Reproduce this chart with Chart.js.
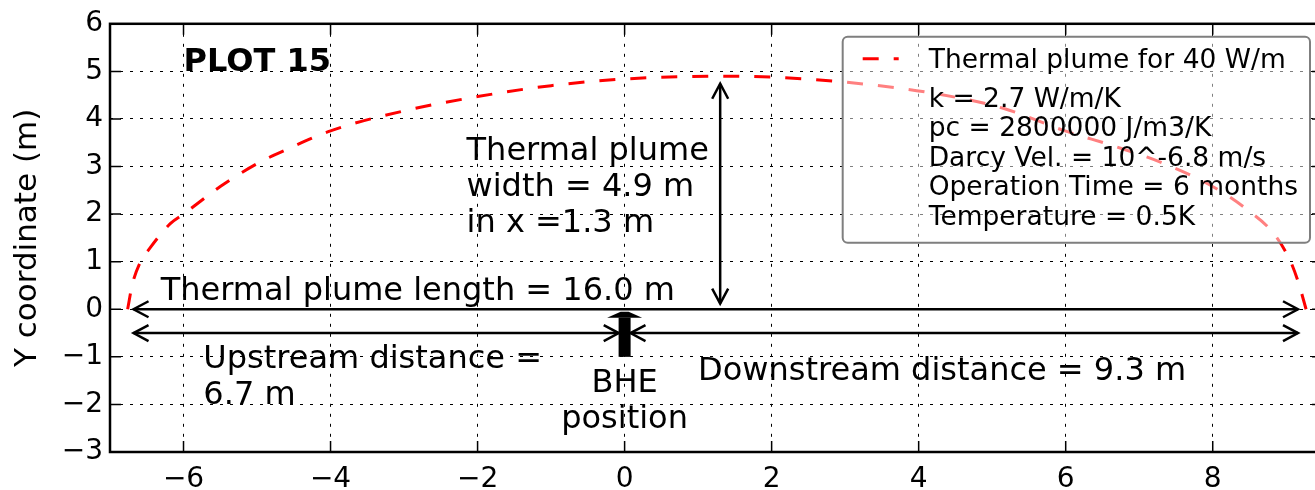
<!DOCTYPE html>
<html lang="en">
<head>
<meta charset="UTF-8" />
<title>Plot 15 - Thermal plume</title>
<script src="https://cdn.jsdelivr.net/npm/chart.js"></script>
<style>
  html, body { margin: 0; padding: 0; background: #fff; overflow: hidden; }
  #wrap { width: 1330px; height: 490px; }
</style>
</head>
<body>
<div id="wrap"><canvas id="plumeChart" width="1330" height="490"></canvas></div>
<script>
// plume contour (m)
const plumeX = [-6.76, -6.70, -6.60, -6.45, -6.18, -6.00, -5.50, -5.00, -4.58, -4.00, -3.00, -2.00, -1.00, 0.00, 1.30, 2.00,
                2.96, 4.12, 5.16, 5.97, 6.70, 7.34, 8.01, 8.48, 8.83, 9.06, 9.17, 9.27];
const plumeY = [0.00, 0.50, 0.95, 1.30, 1.80, 2.00, 2.58, 3.06, 3.37, 3.75, 4.17, 4.47, 4.70, 4.84, 4.90, 4.88,
                4.78, 4.56, 4.22, 3.76, 3.41, 3.06, 2.57, 2.08, 1.59, 1.00, 0.54, 0.00];

const xTicks = [-6, -4, -2, 0, 2, 4, 6, 8];
const yTicks = [-3, -2, -1, 0, 1, 2, 3, 4, 5, 6];
const xRange = [-7, 9.5];
const yRange = [-3, 6];

// annotation texts, anchored at first-line baseline (data coords)
const noteText = ['PLOT 15', 'Thermal plume\nwidth = 4.9 m\nin x =1.3 m', 'Thermal plume length = 16.0 m',
                  'Upstream distance =\n6.7 m', 'Downstream distance = 9.3 m', 'BHE\nposition'];
const noteX = [-6.0, -2.15, -6.31, -5.73, 1.0, 0.0];
const noteY = [5.0, 3.13, 0.19, -1.24, -1.49, -1.74];

// double headed arrows: start / end tips
const arrowStart = [[-6.68, 0], [-6.68, -0.5], [0.08, -0.5], [1.3, 0.12]];
const arrowEnd = [[9.16, 0], [-0.08, -0.5], [9.16, -0.5], [1.3, 4.74]];

// BHE marker arrow
const bheX = 0;
const bheFrom = -1.0;
const bheTo = -0.05;

const seriesLabel = 'Thermal plume for 40 W/m';
const legendLines = ['k = 2.7 W/m/K', 'pc = 2800000 J/m3/K', 'Darcy Vel. = 10^-6.8 m/s',
                     'Operation Time = 6 months', 'Temperature = 0.5K'];

const FONT = "'DejaVu Sans', sans-serif";
const fmt = v => (v < 0 ? '\u2212' + Math.abs(v) : String(v));

function openHead(ctx, tx, ty, fx, fy) {
    const a = Math.atan2(ty - fy, tx - fx);
    const len = 15, half = 8;
    const bx = tx - len * Math.cos(a), by = ty - len * Math.sin(a);
    const px = -Math.sin(a) * half, py = Math.cos(a) * half;
    ctx.beginPath();
    ctx.moveTo(bx + px, by + py);
    ctx.lineTo(tx, ty);
    ctx.lineTo(bx - px, by - py);
    ctx.stroke();
}

const plotExtras = {
    id: 'plotExtras',
    afterDatasetsDraw(chart) {
        const ctx = chart.ctx;
        const xs = chart.scales.x, ys = chart.scales.y;
        const area = chart.chartArea;
        ctx.save();

        // frame + inward ticks
        ctx.strokeStyle = '#000';
        ctx.lineWidth = 2.5;
        ctx.strokeRect(area.left, area.top, area.right - area.left, area.bottom - area.top);
        ctx.lineWidth = 1.5;
        ctx.beginPath();
        xTicks.forEach(v => {
            const px = xs.getPixelForValue(v);
            ctx.moveTo(px, area.bottom); ctx.lineTo(px, area.bottom - 11);
            ctx.moveTo(px, area.top); ctx.lineTo(px, area.top + 11);
        });
        yTicks.forEach(v => {
            const py = ys.getPixelForValue(v);
            ctx.moveTo(area.left, py); ctx.lineTo(area.left + 11, py);
            ctx.moveTo(area.right, py); ctx.lineTo(area.right - 11, py);
        });
        ctx.stroke();

        // arrows
        ctx.lineWidth = 2.5;
        ctx.lineCap = 'butt';
        arrowStart.forEach((s, i) => {
            const e = arrowEnd[i];
            const x1 = xs.getPixelForValue(s[0]), y1 = ys.getPixelForValue(s[1]);
            const x2 = xs.getPixelForValue(e[0]), y2 = ys.getPixelForValue(e[1]);
            ctx.beginPath();
            ctx.moveTo(x1, y1); ctx.lineTo(x2, y2);
            ctx.stroke();
            openHead(ctx, x1, y1, x2, y2);
            openHead(ctx, x2, y2, x1, y1);
        });

        // BHE arrow (thick, pointing up)
        const bx = xs.getPixelForValue(bheX);
        const bBot = ys.getPixelForValue(bheFrom);
        const bTip = ys.getPixelForValue(bheTo);
        const headBase = bTip + 6;
        ctx.fillStyle = '#000';
        ctx.fillRect(bx - 6, headBase, 12, bBot - headBase);
        ctx.beginPath();
        ctx.moveTo(bx - 17.5, headBase);
        ctx.lineTo(bx - 4, bTip);
        ctx.lineTo(bx + 4, bTip);
        ctx.lineTo(bx + 17.5, headBase);
        ctx.closePath();
        ctx.fill();

        // texts
        ctx.textBaseline = 'alphabetic';
        noteText.forEach((t, i) => {
            const bold = i === 0;
            ctx.font = (bold ? 'bold 32px ' : '32px ') + FONT;
            ctx.textAlign = i === noteText.length - 1 ? 'center' : 'left';
            const px = xs.getPixelForValue(noteX[i]);
            const py = ys.getPixelForValue(noteY[i]);
            t.split('\n').forEach((line, k) => ctx.fillText(line, px, py + k * 36));
        });

        // legend (upper right, semi transparent)
        ctx.font = '26.5px ' + FONT;
        ctx.textAlign = 'left';
        const allLines = [seriesLabel].concat(legendLines);
        const maxW = Math.max(...allLines.map(l => ctx.measureText(l).width));
        const w = 86 + maxW + 12;
        const right = area.right - 13, top = area.top + 13;
        const left = right - w;
        const firstBase = top + 31;
        const lastBase = firstBase + 39 + (legendLines.length - 1) * 29.5;
        const bottom = lastBase + 18;
        const r = 5;
        ctx.beginPath();
        ctx.moveTo(left + r, top);
        ctx.arcTo(right, top, right, bottom, r);
        ctx.arcTo(right, bottom, left, bottom, r);
        ctx.arcTo(left, bottom, left, top, r);
        ctx.arcTo(left, top, right, top, r);
        ctx.closePath();
        ctx.fillStyle = 'rgba(255,255,255,0.5)';
        ctx.fill();
        ctx.strokeStyle = '#7f7f7f';
        ctx.lineWidth = 2;
        ctx.stroke();

        ctx.strokeStyle = '#ff0000';
        ctx.lineWidth = 3;
        ctx.setLineDash([16, 15]);
        ctx.beginPath();
        ctx.moveTo(left + 20, firstBase - 9);
        ctx.lineTo(left + 56, firstBase - 9);
        ctx.stroke();
        ctx.setLineDash([]);

        ctx.fillStyle = '#000';
        ctx.fillText(seriesLabel, left + 86, firstBase);
        legendLines.forEach((l, k) => ctx.fillText(l, left + 86, firstBase + 39 + k * 29.5));

        ctx.restore();
    }
};

new Chart(document.getElementById('plumeChart'), {
    type: 'scatter',
    data: {
        datasets: [{
            label: seriesLabel,
            data: plumeX.map((x, i) => ({ x: x, y: plumeY[i] })),
            showLine: true,
            borderColor: '#ff0000',
            borderWidth: 3,
            borderDash: [16, 15],
            pointRadius: 0,
            fill: false,
            cubicInterpolationMode: 'monotone'
        }]
    },
    options: {
        responsive: false,
        animation: false,
        devicePixelRatio: 1,
        layout: { padding: { left: 0, top: 23, right: 7, bottom: 0 } },
        plugins: { legend: { display: false }, tooltip: { enabled: false } },
        scales: {
            x: {
                type: 'linear',
                min: xRange[0],
                max: xRange[1],
                afterBuildTicks: s => { s.ticks = xTicks.map(v => ({ value: v })); },
                afterFit: s => { s.height = 38; },
                grid: { color: '#000', lineWidth: 1, drawTicks: false },
                border: { display: false, dash: [3, 7] },
                ticks: {
                    color: '#000', font: { family: FONT, size: 28 }, padding: 11,
                    maxRotation: 0, autoSkip: false, callback: v => fmt(v)
                }
            },
            y: {
                type: 'linear',
                min: yRange[0],
                max: yRange[1],
                afterBuildTicks: s => { s.ticks = yTicks.map(v => ({ value: v })); },
                afterFit: s => { s.width = 110; },
                grid: { color: '#000', lineWidth: 1, drawTicks: false },
                border: { display: false, dash: [3, 7] },
                title: {
                    display: true, text: 'Y coordinate (m)', color: '#000',
                    font: { family: FONT, size: 31 }, padding: { top: 9, bottom: 0 }
                },
                ticks: {
                    color: '#000', font: { family: FONT, size: 28 }, padding: 7,
                    autoSkip: false, callback: v => fmt(v)
                }
            }
        }
    },
    plugins: [plotExtras]
});
</script>
</body>
</html>
